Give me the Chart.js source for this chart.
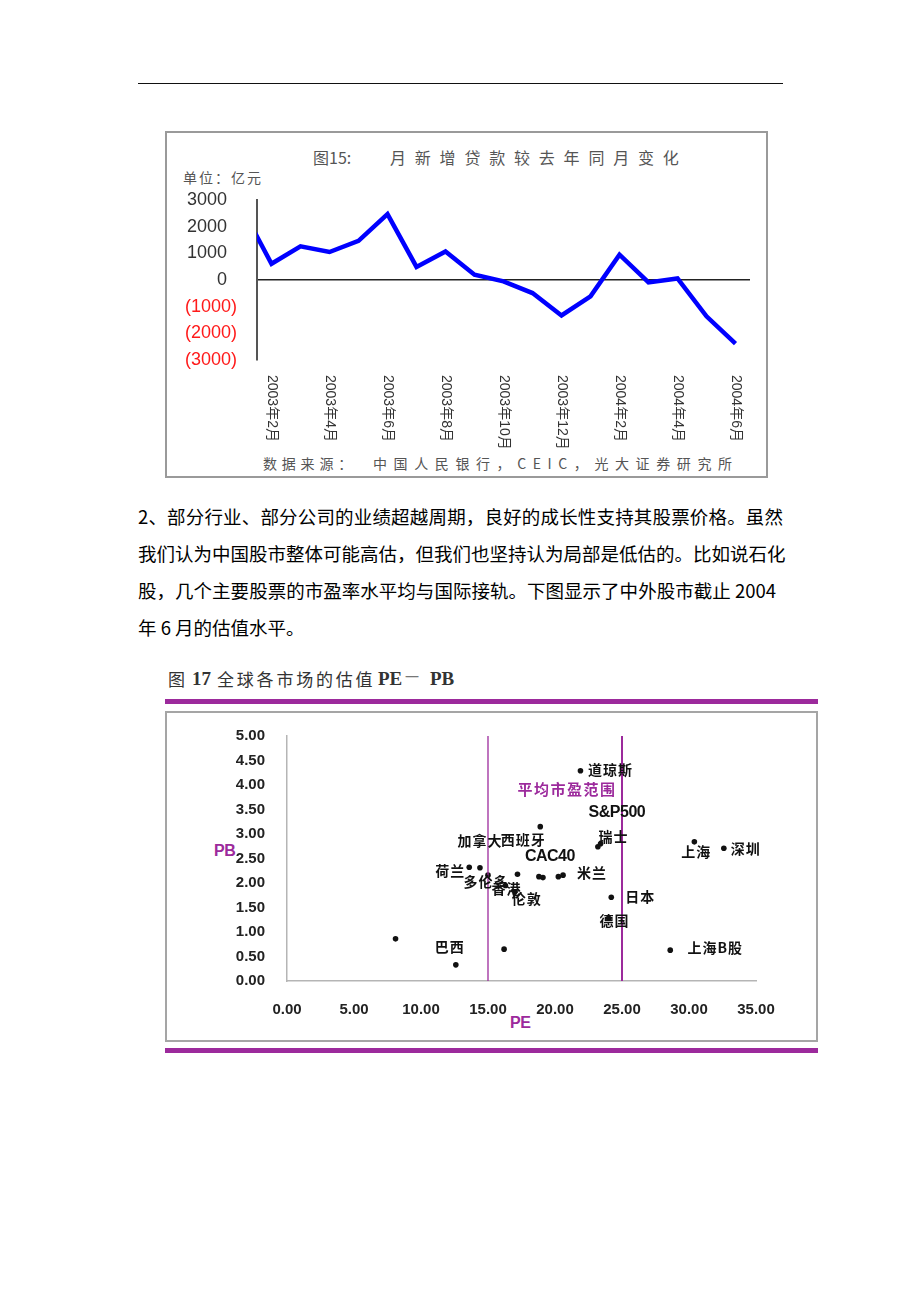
<!DOCTYPE html>
<html>
<head>
<meta charset="utf-8">
<script src="https://cdn.jsdelivr.net/npm/chart.js@4.4.1/dist/chart.umd.min.js"></script>
<style>
  body { margin: 0; background: #fff; width: 920px; height: 1302px; position: relative; overflow: hidden;
         font-family: "Noto Sans CJK SC", sans-serif; color: #000; }
  .t { position: absolute; white-space: nowrap; line-height: 1; }
  .rule { position: absolute; }
  .para { position: absolute; left: 138px; width: 645px; font-size: 18.5px; line-height: 37px; }
  .para div { text-align: justify; text-align-last: justify; white-space: nowrap; }
  .para div.last { text-align-last: left; }
  canvas { position: absolute; }
</style>
</head>
<body>

<!-- page header rule -->
<div class="rule" style="left:138px;top:83px;width:645px;height:1px;background:#111"></div>

<!-- figure 15 frame -->
<div class="rule" style="left:165px;top:131px;width:599px;height:343px;border:2px solid #9a9a9a"></div>
<div class="t" style="left:313px;top:149px;font-size:16px;color:#555">图15:</div>
<div class="t" style="left:390px;top:149px;font-size:16px;color:#555;letter-spacing:8.8px">月新增贷款较去年同月变化</div>
<div class="t" style="left:183px;top:170px;font-size:14px;color:#555;letter-spacing:2px">单位：亿元</div>
<div class="t" style="left:263px;top:456px;font-size:14px;color:#555;letter-spacing:4.8px">数据来源：</div>
<div class="t" style="left:373px;top:456px;font-size:14px;color:#555;letter-spacing:6.6px">中国人民银行，CEIC，光大证券研究所</div>
<canvas id="loanChart" width="599" height="343" style="left:167px;top:133px"></canvas>

<!-- paragraph -->
<div class="para" style="top:498px">
  <div>2、部分行业、部分公司的业绩超越周期，良好的成长性支持其股票价格。虽然</div>
  <div>我们认为中国股市整体可能高估，但我们也坚持认为局部是低估的。比如说石化</div>
  <div style="width:638px">股，几个主要股票的市盈率水平均与国际接轨。下图显示了中外股市截止 2004</div>
  <div class="last">年 6 月的估值水平。</div>
</div>

<!-- figure 17 -->
<div class="t" style="left:168px;top:670px;font-size:17px;color:#333">图</div>
<div class="t" style="left:192px;top:669px;font-size:19px;color:#333;font-family:'Liberation Serif',serif;font-weight:bold">17</div>
<div class="t" style="left:217px;top:670px;font-size:17px;color:#333;letter-spacing:2.8px">全球各市场的估值</div>
<div class="t" style="left:378px;top:669px;font-size:19px;color:#333;font-family:'Liberation Serif',serif;font-weight:bold">PE</div>
<div class="t" style="left:405px;top:669px;font-size:14px;color:#777">一</div>
<div class="t" style="left:430px;top:669px;font-size:19px;color:#333;font-family:'Liberation Serif',serif;font-weight:bold">PB</div>
<div class="rule" style="left:165px;top:699px;width:653px;height:5px;background:#9c2a9c"></div>
<div class="rule" style="left:165px;top:711px;width:649px;height:327px;border:2px solid #a5a5a5"></div>
<div class="rule" style="left:165px;top:1048px;width:653px;height:5px;background:#9c2a9c"></div>
<div class="t" style="left:214px;top:843px;font-size:16px;color:#9c2a9c;font-family:'Liberation Sans',sans-serif;font-weight:bold;letter-spacing:-0.5px">PB</div>
<div class="t" style="left:510px;top:1015px;font-size:16px;color:#9c2a9c;font-family:'Liberation Sans',sans-serif;font-weight:bold;letter-spacing:-0.5px">PE</div>
<canvas id="peChart" width="649" height="327" style="left:167px;top:713px"></canvas>

<script>
"use strict";

// ---- Figure 15: monthly new loans vs same month last year (100m yuan) ----
const loanMonths = [
  '2003年1月', '2003年2月', '2003年3月', '2003年4月', '2003年5月', '2003年6月',
  '2003年7月', '2003年8月', '2003年9月', '2003年10月', '2003年11月', '2003年12月',
  '2004年1月', '2004年2月', '2004年3月', '2004年4月', '2004年5月', '2004年6月'
];
const loanChange = [2650, 610, 1260, 1050, 1470, 2470, 490, 1070, 200, -50, -490, -1330,
                    -610, 950, -90, 60, -1360, -2390];
const loanTicks = [-3000, -2000, -1000, 0, 1000, 2000, 3000];

// ---- Figure 17: global market valuation PE - PB ----
const marketNames = ['道琼斯', 'S&P500', '瑞士', '西班牙', '加拿大', '荷兰', '多伦多', '香港', '伦敦',
                     'CAC40', '米兰', '日本', '德国', '上海', '深圳', '上海B股', '巴西',
                     '', '', '', '', ''];
const marketPE = [21.9, 23.2, 23.4, 18.9, 14.4, 13.6, 15.0, 16.3, 17.0,
                  18.8, 20.6, 24.2, 24.0, 30.4, 32.6, 28.6, 12.6,
                  17.2, 19.1, 20.25, 8.1, 16.2];
const marketPB = [4.29, 2.74, 2.80, 3.15, 2.31, 2.32, 2.16, 1.95, 1.82,
                  2.13, 2.16, 1.71, 1.28, 2.84, 2.71, 0.63, 0.33,
                  2.18, 2.11, 2.13, 0.86, 0.65];
const avgPERange = [15, 25];
const peTicks = [0, 5, 10, 15, 20, 25, 30, 35];
const pbTicks = [0, 0.5, 1, 1.5, 2, 2.5, 3, 3.5, 4, 4.5, 5];

// label placement (pixels from the point to the label centre)
const labelOffsets = [[30, -1], [19, -34], [13, -7], [-17, 13], [0, -27], [-19, 3], [-2, 7], [1, 3], [12, 7],
                      [11, -20], [29, -2], [29, -1], [6, 2], [2, 10], [22, 0], [45, -2], [-6, -18]];
const rangeLabelAt = [20.9, 3.92];

const PURPLE = '#9c2a9c';

// vertical month labels, reading top to bottom
const verticalMonthLabels = {
  id: 'verticalMonthLabels',
  afterDraw(chart) {
    const { ctx, chartArea } = chart;
    const x = chart.scales.x;
    ctx.save();
    ctx.font = '14px "Liberation Sans", "Noto Sans CJK SC"';
    ctx.fillStyle = '#333';
    ctx.textAlign = 'left';
    ctx.textBaseline = 'middle';
    loanMonths.forEach((m, i) => {
      if (i % 2 === 0) return;
      ctx.save();
      ctx.translate(x.getPixelForValue(i), chartArea.bottom + 15);
      ctx.rotate(Math.PI / 2);
      ctx.fillText(m, 0, 0);
      ctx.restore();
    });
    ctx.restore();
  }
};

new Chart(document.getElementById('loanChart').getContext('2d'), {
  type: 'line',
  data: {
    datasets: [{
      data: loanChange.map((v, i) => ({ x: i, y: v })),
      borderColor: '#0000ff',
      borderWidth: 4.5,
      pointRadius: 0,
      tension: 0
    }]
  },
  options: {
    responsive: false,
    animation: false,
    layout: { padding: { top: 67, right: 16, bottom: 116, left: 0 } },
    plugins: { legend: { display: false }, tooltip: { enabled: false } },
    scales: {
      x: { type: 'linear', min: 0.5, max: 17.5, display: false },
      y: {
        min: -3000, max: 3000,
        afterFit(scale) { scale.width = 90; },
        afterBuildTicks(scale) { scale.ticks = loanTicks.map(v => ({ value: v })); },
        border: { display: true, color: '#555', width: 2 },
        grid: {
          drawTicks: false,
          color: c => (c.tick && c.tick.value === 0) ? '#222' : 'rgba(0,0,0,0)',
          lineWidth: 1.5
        },
        ticks: {
          padding: 20,
          font: { family: '"Liberation Sans", Arial', size: 18 },
          color: c => c.tick.value < 0 ? '#ff1a1a' : '#333',
          callback: v => v < 0 ? '(' + (-v) + ')' : v + '  '
        }
      }
    }
  },
  plugins: [verticalMonthLabels]
});

// market names next to the points
const marketLabels = {
  id: 'marketLabels',
  afterDatasetsDraw(chart) {
    const { ctx } = chart;
    const x = chart.scales.x, y = chart.scales.y;
    ctx.save();
    ctx.textAlign = 'center';
    ctx.textBaseline = 'middle';
    ctx.fillStyle = '#111';
    marketNames.forEach((name, i) => {
      if (!name) return;
      const latin = /^[A-Z&0-9]+$/.test(name);
      ctx.font = latin ? 'bold 16px "Liberation Sans"' : 'bold 14px "Noto Sans CJK SC"';
      ctx.letterSpacing = latin ? '-0.5px' : '1px';
      const [dx, dy] = labelOffsets[i];
      ctx.fillText(name, x.getPixelForValue(marketPE[i]) + dx, y.getPixelForValue(marketPB[i]) + dy);
    });
    ctx.font = 'bold 15px "Noto Sans CJK SC"';
    ctx.letterSpacing = '1.5px';
    ctx.fillStyle = PURPLE;
    ctx.fillText('平均市盈范围', x.getPixelForValue(rangeLabelAt[0]), y.getPixelForValue(rangeLabelAt[1]));
    ctx.restore();
  }
};

const rangeLines = avgPERange.map((v, i) => ({
  type: 'line',
  data: [{ x: v, y: 0 }, { x: v, y: 5 }],
  borderColor: PURPLE,
  borderWidth: i === 0 ? 1.3 : 2,
  pointRadius: 0,
  showLine: true
}));

const tickFont = { family: '"Liberation Sans", Arial', size: 15, weight: 'bold' };

new Chart(document.getElementById('peChart').getContext('2d'), {
  type: 'scatter',
  data: {
    datasets: [
      ...rangeLines,
      {
        data: marketPE.map((pe, i) => ({ x: pe, y: marketPB[i] })),
        pointRadius: 2.8,
        pointBackgroundColor: '#111',
        pointBorderWidth: 0
      }
    ]
  },
  options: {
    responsive: false,
    animation: false,
    layout: { padding: { top: 23, right: 60, bottom: 0, left: 0 } },
    plugins: { legend: { display: false }, tooltip: { enabled: false } },
    scales: {
      x: {
        type: 'linear', min: 0, max: 35,
        afterFit(scale) { scale.height = 59; },
        afterBuildTicks(scale) { scale.ticks = peTicks.map(v => ({ value: v })); },
        border: { display: true, color: '#b5b5b5', width: 1.5 },
        grid: { display: false },
        ticks: { padding: 12, font: tickFont, color: '#222', callback: v => v.toFixed(2) }
      },
      y: {
        type: 'linear', min: 0, max: 5,
        afterFit(scale) { scale.width = 120; },
        afterBuildTicks(scale) { scale.ticks = pbTicks.map(v => ({ value: v })); },
        border: { display: true, color: '#b5b5b5', width: 1.5 },
        grid: { display: false },
        ticks: { padding: 14, font: tickFont, color: '#222', callback: v => v.toFixed(2) }
      }
    }
  },
  plugins: [marketLabels]
});
</script>
</body>
</html>
